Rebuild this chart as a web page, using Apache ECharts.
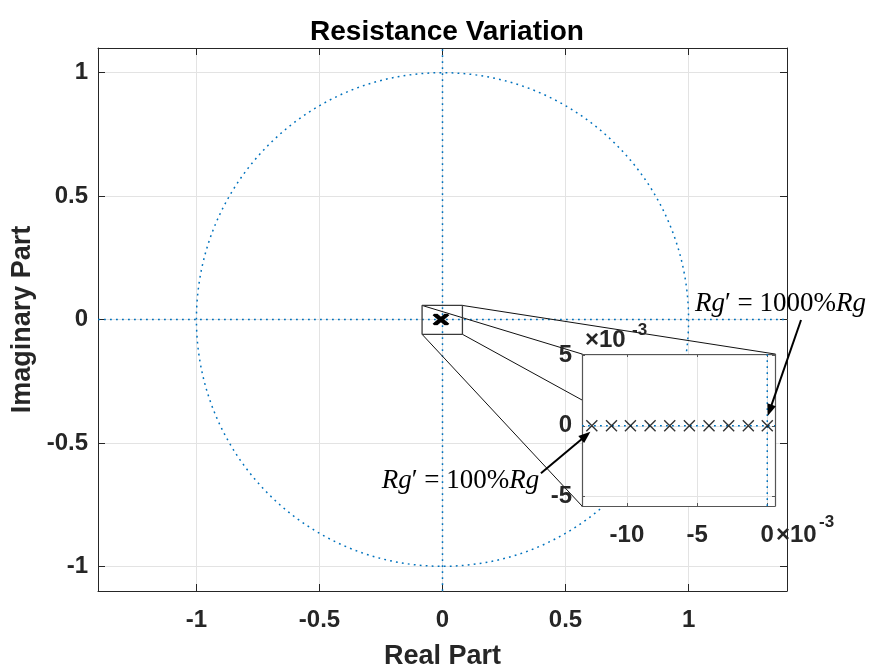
<!DOCTYPE html>
<html><head><meta charset="utf-8">
<script src="https://cdn.jsdelivr.net/npm/echarts@6/dist/echarts.min.js"></script>
<style>html,body{margin:0;padding:0;background:#fff}#c{width:870px;height:668px}</style>
</head><body><div id="c"></div>
<script>
// ---- data ----
const poleReal = [-12.5, -11.1, -9.75, -8.35, -6.95, -5.55, -4.15, -2.75, -1.35, 0.0]; // ×1e-3
const poleImag = [0, 0, 0, 0, 0, 0, 0, 0, 0, 0];                                     // ×1e-3
const poleScale = 1e-3;
const titleText = 'Resistance Variation';
const xName = 'Real Part';
const yName = 'Imaginary Part';
const annoLow = ['Rg', '′ = 100%', 'Rg'];
const annoHigh = ['Rg', '′ = 1000%', 'Rg'];
const expText = ['×10', '-3'];
const unitRadius = 1;

// ---- axis extents / annotation anchors ----
const mainX = [-1.4, 1.4], mainY = [-1.1, 1.1];
const insX = [-13.2, 0.55], insY = [-5.7, 5.1];
const zoomBoxX = [-0.083, 0.081], zoomBoxY = [-0.06, 0.057];
const annoLowPos = [-0.247, -0.654], annoHighPos = [1.026, 0.063];
const arrowLowTail = [0.400, -0.623], arrowLowTip = [-12.6, -0.43];
const arrowHighTail = [1.457, -0.002], arrowHighTip = [0.03, 0.69];

const AX = '#262626';
const FF = '"Liberation Sans", Arial, Helvetica, sans-serif';
const SERIF = '"Liberation Serif", "Times New Roman", serif';
const BLUE = '#0072BD';
const GRID = '#e3e3e3';
const DOT = [1.8, 4.2];
const XPATH = 'path://M0,0L10,10M10,0L0,10';

const tickLab = (margin) => ({show: true, fontFamily: FF, fontWeight: 'bold', fontSize: 24, color: AX,
  margin: margin, showMinLabel: false, showMaxLabel: false});

function mkAxis(o) {
  const isIns = o.gridIndex === 1;
  const lineColor = isIns ? '#555' : AX;
  return Object.assign({
    type: 'value',
    axisLine: {show: true, onZero: false, lineStyle: {color: lineColor, width: isIns ? 1.2 : 1}},
    axisTick: {show: true, inside: true, length: isIns ? 3 : 7, lineStyle: {color: lineColor, width: 1}},
    splitLine: {show: false},
    axisLabel: {show: false},
    z: isIns ? 5 : 0
  }, o);
}

const chart = echarts.init(document.getElementById('c'), null, {renderer: 'canvas'});
const polesMain = poleReal.map((r, i) => [r * poleScale, poleImag[i] * poleScale]);
const polesIns = poleReal.map((r, i) => [r, poleImag[i]]);

chart.setOption({
  animation: false,
  backgroundColor: '#fff',
  title: {text: titleText, left: 442, textAlign: 'center', top: 13,
    textStyle: {fontFamily: FF, fontWeight: 'bold', fontSize: 28, color: '#000'}},
  grid: [
    {left: 98, top: 48, width: 689, height: 543, containLabel: false, outerBoundsMode: 'none'},
    {left: 582, top: 354, width: 193, height: 152, show: true, backgroundColor: '#fff', borderWidth: 0, z: 4,
      containLabel: false, outerBoundsMode: 'none'}
  ],
  xAxis: [
    mkAxis({gridIndex: 0, position: 'bottom', min: mainX[0], max: mainX[1],
      axisLabel: tickLab(17), splitLine: {show: true, lineStyle: {color: GRID, width: 1}},
      name: xName, nameLocation: 'middle', nameGap: 52,
      nameTextStyle: {fontFamily: FF, fontWeight: 'bold', fontSize: 27, color: AX}}),
    mkAxis({gridIndex: 0, position: 'top', min: mainX[0], max: mainX[1]}),
    mkAxis({gridIndex: 1, position: 'bottom', min: insX[0], max: insX[1], splitNumber: 3,
      axisLabel: tickLab(17), splitLine: {show: true, lineStyle: {color: GRID, width: 1}}}),
    mkAxis({gridIndex: 1, position: 'top', min: insX[0], max: insX[1], splitNumber: 3})
  ],
  yAxis: [
    mkAxis({gridIndex: 0, position: 'left', min: mainY[0], max: mainY[1],
      axisLabel: tickLab(10), splitLine: {show: true, lineStyle: {color: GRID, width: 1}},
      name: yName, nameLocation: 'middle', nameGap: 62, nameRotate: 90,
      nameTextStyle: {fontFamily: FF, fontWeight: 'bold', fontSize: 27, color: AX}}),
    mkAxis({gridIndex: 0, position: 'right', min: mainY[0], max: mainY[1]}),
    mkAxis({gridIndex: 1, position: 'left', min: insY[0], max: insY[1], splitNumber: 2,
      axisLabel: tickLab(10), splitLine: {show: true, lineStyle: {color: GRID, width: 1}}}),
    mkAxis({gridIndex: 1, position: 'right', min: insY[0], max: insY[1], splitNumber: 2})
  ],
  series: [
    {type: 'line', xAxisIndex: 0, yAxisIndex: 0, symbol: 'none', silent: true, z: 2,
      data: [[mainX[0], 0], [mainX[1], 0]], lineStyle: {color: BLUE, width: 1.5, type: DOT}},
    {type: 'line', xAxisIndex: 0, yAxisIndex: 0, symbol: 'none', silent: true, z: 2,
      data: [[0, mainY[0]], [0, mainY[1]]], lineStyle: {color: BLUE, width: 1.5, type: DOT}},
    {type: 'scatter', xAxisIndex: 0, yAxisIndex: 0, symbol: XPATH, symbolSize: [12, 10], silent: true, z: 3,
      data: polesMain, itemStyle: {color: 'transparent', borderColor: '#000', borderWidth: 2.2}},
    {type: 'line', xAxisIndex: 0, yAxisIndex: 0, symbol: 'none', silent: true, z: 3,
      data: [[zoomBoxX[0], zoomBoxY[0]], [zoomBoxX[1], zoomBoxY[0]], [zoomBoxX[1], zoomBoxY[1]],
             [zoomBoxX[0], zoomBoxY[1]], [zoomBoxX[0], zoomBoxY[0]]],
      lineStyle: {color: '#3a3a3a', width: 1.3}},
    {type: 'line', xAxisIndex: 2, yAxisIndex: 2, symbol: 'none', silent: true, z: 6,
      data: [[insX[0], 0], [insX[1], 0]], lineStyle: {color: BLUE, width: 1.5, type: DOT}},
    {type: 'line', xAxisIndex: 2, yAxisIndex: 2, symbol: 'none', silent: true, z: 6,
      data: [[0, insY[0]], [0, insY[1]]], lineStyle: {color: BLUE, width: 1.5, type: DOT}},
    {type: 'scatter', xAxisIndex: 2, yAxisIndex: 2, symbol: XPATH, symbolSize: 11, silent: true, z: 7,
      data: polesIns, itemStyle: {color: 'transparent', borderColor: '#000', borderWidth: 1.4}}
  ]
});

// ---- overlay graphics computed through the axes ----
const M = (p) => chart.convertToPixel({xAxisIndex: 0, yAxisIndex: 0}, p);
const I = (p) => chart.convertToPixel({xAxisIndex: 2, yAxisIndex: 2}, p);
const c0 = M([0, 0]), cx1 = M([unitRadius, 0]), cy1 = M([0, unitRadius]);
const els = [];
els.push({type: 'ellipse', z: 1, silent: true,
  shape: {cx: c0[0], cy: c0[1], rx: cx1[0] - c0[0], ry: c0[1] - cy1[1]},
  style: {fill: 'none', stroke: BLUE, lineWidth: 1.5, lineDash: DOT}});

// connector lines from zoom box to inset corners
const pairs = [
  [[zoomBoxX[0], zoomBoxY[1]], [insX[0], insY[1]]],
  [[zoomBoxX[1], zoomBoxY[1]], [insX[1], insY[1]]],
  [[zoomBoxX[0], zoomBoxY[0]], [insX[0], insY[0]]],
  [[zoomBoxX[1], zoomBoxY[0]], [insX[1], insY[0]]]
];
pairs.forEach(([a, b]) => {
  const p = M(a), q = I(b);
  els.push({type: 'line', z: 3, silent: true, shape: {x1: p[0], y1: p[1], x2: q[0], y2: q[1]},
    style: {stroke: '#111', lineWidth: 1}});
});

function arrow(p0, p1) {
  const dx = p1[0] - p0[0], dy = p1[1] - p0[1], L = Math.hypot(dx, dy);
  const ux = dx / L, uy = dy / L, hl = 12, hw = 4.5;
  const b = [p1[0] - ux * hl, p1[1] - uy * hl];
  els.push({type: 'line', z: 10, silent: true, shape: {x1: p0[0], y1: p0[1], x2: b[0] + ux * 2, y2: b[1] + uy * 2},
    style: {stroke: '#000', lineWidth: 2}});
  els.push({type: 'polygon', z: 10, silent: true,
    shape: {points: [p1, [b[0] - uy * hw, b[1] + ux * hw], [b[0] + uy * hw, b[1] - ux * hw]]},
    style: {fill: '#000'}});
}
arrow(M(arrowLowTail), I(arrowLowTip));
arrow(M(arrowHighTail), I(arrowHighTip));

const rich = {
  i: {fontFamily: SERIF, fontStyle: 'italic', fontSize: 27, fill: '#000', color: '#000'},
  r: {fontFamily: SERIF, fontSize: 27, fill: '#000', color: '#000'}
};
function anno(parts, pos) {
  const p = M(pos);
  els.push({type: 'text', z: 10, silent: true, x: p[0], y: p[1],
    style: {text: '{i|' + parts[0] + '}{r|' + parts[1] + '}{i|' + parts[2] + '}', rich: rich,
      align: 'left', verticalAlign: 'middle', textAlign: 'left', textVerticalAlign: 'middle'}});
}
anno(annoLow, annoLowPos);
anno(annoHigh, annoHighPos);

// ×10^-3 exponent labels
const tl = I([insX[0], insY[1]]), br = I([insX[1], insY[0]]);
function txt(s, x, y, size) {
  els.push({type: 'text', z: 10, silent: true, x: x, y: y,
    style: {text: s, fontFamily: FF, fontWeight: 'bold', fontSize: size, fill: AX,
      align: 'left', verticalAlign: 'middle', textAlign: 'left', textVerticalAlign: 'middle'}});
}
txt(expText[0], tl[0] + 3, tl[1] - 14, 24);
txt(expText[1], tl[0] + 50, tl[1] - 24, 17);
txt(expText[0], br[0] + 1, br[1] + 29, 24);
txt(expText[1], br[0] + 44, br[1] + 16, 17);

chart.setOption({graphic: {elements: els}});
</script>
</body></html>
